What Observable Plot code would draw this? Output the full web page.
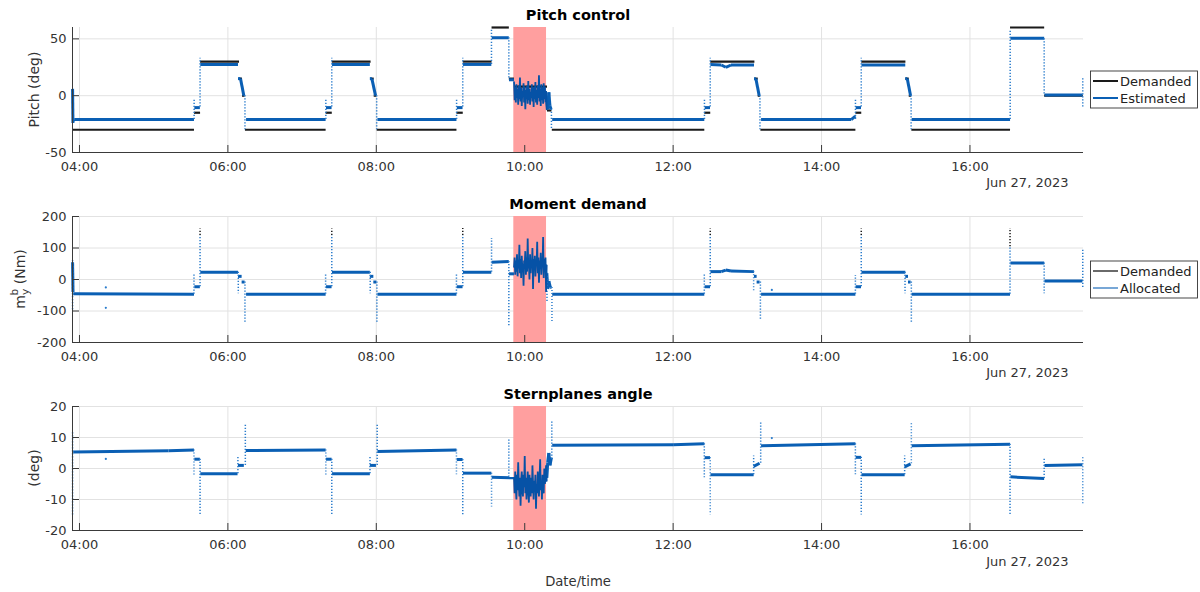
<!DOCTYPE html>
<html><head><meta charset="utf-8">
<script src="https://cdn.jsdelivr.net/npm/d3@7"></script>
<script src="https://cdn.jsdelivr.net/npm/@observablehq/plot@0.6"></script>
<style>
body{margin:0;background:#fff;font-family:"DejaVu Sans",sans-serif;}
#wrap{position:relative;width:1200px;height:592px;overflow:hidden;}
#wrap svg{position:absolute;left:0;overflow:visible;}
</style></head><body><div id="wrap"></div>
<script>
// ---------- data (hours of the day, 27 Jun 2023) ----------
const xTickHours = [4, 6, 8, 10, 12, 14, 16];
const timeDomain = [3.906, 17.53];
const dateLabel = "Jun 27, 2023";
const redSpan = [[9.853, 10.294]];

const titles = ["Pitch control", "Moment demand", "Sternplanes angle"];
const legend1 = ["Demanded", "Estimated"];
const legend2 = ["Demanded", "Allocated"];

const pitchTicks = [-50, 0, 50];
const momentTicks = [-200, -100, 0, 100, 200];
const sternTicks = [-20, -10, 0, 10, 20];

// segments [t0, v0, t1, v1]
const pitchDemanded = [
 [3.907,-30,5.543,-30],[5.543,-15,5.625,-15],[5.625,30,6.15,30],[6.15,15,6.19,15],[6.19,0,6.225,0],
 [6.23,-30,7.317,-30],[7.317,-15,7.40,-15],[7.40,30,7.923,30],[7.923,15,7.965,15],[7.965,0,8.0,0],
 [8.005,-30,9.08,-30],[9.08,-15,9.165,-15],[9.165,30,9.553,30],[9.553,60,9.786,60],[9.786,15,9.855,15],
 [9.855,8,10.30,8],[10.30,-13,10.36,-13],[10.365,-30,12.42,-30],[12.42,-15,12.50,-15],[12.50,30,13.095,30],
 [13.095,15,13.14,15],[13.14,0,13.17,0],[13.176,-30,14.456,-30],[14.456,-15,14.535,-15],[14.535,30,15.13,30],
 [15.13,15,15.175,15],[15.175,0,15.205,0],[15.21,-30,16.54,-30],[16.54,60,17.0,60],[17.0,0,17.52,0]
];
const pitchEstimated = [
 [3.907,6,3.912,-24],[3.912,-22,3.93,-21],[3.93,-21,5.543,-21],[5.548,-10.5,5.622,-10.5],[5.628,27.5,6.136,27.5],
 [6.136,15,6.17,15],[6.17,15,6.215,0],[6.245,-21,7.317,-21],[7.322,-10.5,7.397,-10.5],[7.403,27.5,7.913,27.5],
 [7.913,15,7.94,15],[7.94,15,7.99,0],[8.015,-21,9.08,-21],[9.085,-10.5,9.162,-10.5],[9.168,27.5,9.55,27.5],
 [9.555,51,9.785,51],[9.788,14,9.855,14],[10.298,-6,10.31,-12],[10.31,-12,10.325,3],[10.325,3,10.34,-9],
 [10.34,-9,10.355,-12],[10.37,-21,12.42,-21],[12.425,-10.5,12.497,-10.5],[12.503,27.5,12.65,27],[12.65,27,12.71,25],
 [12.71,25,12.78,27],[12.78,27,13.09,27],[13.09,15,13.115,15],[13.115,15,13.16,0],[13.185,-21,14.40,-21],
 [14.40,-21,14.456,-18],[14.46,-10.5,14.532,-10.5],[14.538,27,15.128,27],[15.128,15,15.155,15],[15.155,15,15.2,0],
 [15.215,-21,16.54,-21],[16.545,50.5,17.0,50.5],[17.005,0.5,17.515,0.5]
];
// spikes [t, v0, v1]
const pitchSpikes = [
 [5.545,-21,-3],[5.625,-10,33],[6.23,0,-30],[7.32,-21,-3],[7.40,-10,33],[8.005,0,-30],[9.082,-21,-3],
 [9.165,-10,33],[9.552,27.5,58],[9.786,51,14],[10.36,-12,-30],[12.422,-21,-3],[12.50,-10,33],[13.17,0,-30],
 [14.457,-21,-3],[14.535,-10,33],[15.207,0,-30],[16.542,-21,58],[17.0,50,0],[17.52,-10,16]
];

const momentAllocated = [
 [3.907,55,3.913,-40],[3.915,-45,5.543,-47],[5.548,-23,5.622,-23],[5.628,23,6.136,23],[6.136,10,6.185,10],
 [6.185,-8,6.225,-8],[6.245,-47,7.317,-47],[7.322,-23,7.397,-23],[7.403,23,7.913,23],[7.913,10,7.96,10],
 [7.96,-8,8.0,-8],[8.015,-47,9.08,-47],[9.085,-23,9.162,-23],[9.168,23,9.55,23],[9.555,55,9.785,57],
 [9.788,18,9.855,18],[10.298,20,10.31,-30],[10.31,-30,10.325,-5],[10.325,-5,10.345,-25],[10.345,-25,10.36,-25],
 [10.37,-47,12.42,-47],[12.425,-23,12.497,-23],[12.503,25,12.65,25],[12.65,25,12.71,30],[12.71,30,12.78,27],
 [12.78,27,13.09,25],[13.09,10,13.125,10],[13.125,-8,13.165,-8],[13.185,-47,14.456,-47],[14.46,-23,14.532,-23],
 [14.538,23,15.128,23],[15.128,10,15.165,10],[15.165,-8,15.2,-8],[15.215,-47,16.54,-47],[16.545,52,17.0,52],
 [17.005,-5,17.515,-5]
];
const momentSpikes = [
 [3.907,60,-100],[5.543,-47,20],[5.625,-23,140],[6.14,23,-45],[6.23,-8,-138],[7.317,-47,20],[7.40,-23,140],
 [7.918,23,-45],[8.008,-8,-138],[9.08,-47,20],[9.165,-23,140],[9.553,23,130],[9.786,57,-152],[10.30,20,-75],
 [10.367,-25,-136],[12.42,-47,20],[12.50,-23,140],[13.085,25,-40],[13.176,-8,-128],[14.456,-47,13],
 [14.535,-23,140],[15.125,23,-45],[15.21,-8,-136],[16.54,-47,104],[17.0,52,-45],[17.52,-25,98]
];
const momentDemandSpikes = [
 [5.625,140,160],[7.40,140,160],[9.165,140,162],[12.50,140,160],[14.535,140,160],[16.54,104,162]
];
const momentDots = [[4.355,-25],[4.355,-90],[13.33,-33]];

const sternAngle = [
 [3.915,5.3,5.20,5.7],[5.20,5.7,5.543,6.0],[5.548,3,5.622,3],[5.628,-1.7,6.13,-1.7],[6.135,1,6.215,1],
 [6.24,5.8,7.317,6.0],[7.322,3,7.397,3],[7.403,-1.7,7.913,-1.7],[7.913,1,7.995,1],[8.015,5.5,9.08,6.0],
 [9.085,2.9,9.162,2.9],[9.168,-1.5,9.55,-1.5],[9.555,-2.8,9.855,-3.0],[10.298,-3,10.31,2],[10.31,2,10.325,5],
 [10.325,5,10.34,1],[10.34,1,10.36,3.5],[10.37,7.5,12.0,7.7],[12.0,7.7,12.42,8.0],[12.425,3.5,12.497,3.5],
 [12.503,-2,13.085,-2],[13.085,0.7,13.165,1.7],[13.185,7.3,14.456,8.0],[14.46,3.6,14.532,3.6],[14.538,-2,15.12,-2],
 [15.12,0.5,15.2,1.5],[15.215,7.3,16.54,7.8],[16.545,-2.7,17.0,-3.2],[17.005,1,17.515,1.2]
];
const sternSpikes = [
 [3.907,11.5,-15],[5.543,6,-2.6],[5.625,3,-15],[6.135,-1.7,3.8],[6.235,1,14.3],[7.32,6,-2.6],[7.40,3,-15],
 [7.915,-1.7,3.8],[8.012,1,14.5],[9.08,6,-2],[9.165,2.9,-15],[9.553,-1.5,-12.4],[9.786,-2.8,9.5],[10.365,3,15.4],
 [12.42,8,-3],[12.50,3.5,-15],[13.085,-2,4],[13.18,1.7,15],[14.456,8,-2],[14.535,3.6,-15],[15.12,-2,4],
 [15.21,1.5,15],[16.54,7.8,-15],[17.0,-3.2,3.2],[17.52,3.5,-12]
];
const sternDots = [[4.355,3.1],[13.33,9.8]];

// noisy stretch inside the red band
const noiseT = [9.856,9.864,9.872,9.880,9.888,9.896,9.904,9.912,9.920,9.928,9.936,9.944,9.952,9.960,9.968,9.976,
 9.984,9.992,10.000,10.008,10.016,10.024,10.032,10.040,10.048,10.056,10.064,10.072,10.080,10.088,10.096,10.104,
 10.112,10.120,10.128,10.136,10.144,10.152,10.160,10.168,10.176,10.184,10.192,10.200,10.208,10.216,10.224,10.232,
 10.240,10.248,10.256,10.264,10.272,10.280,10.288,10.296];
const pitchNoise = [12,-4,8,-6,10,-2,6,-8,9,-3,16,-5,7,-9,4,-1,11,-6,8,-12,5,-3,9,-7,13,-4,6,-8,3,-2,10,-5,7,-10,8,-3,
 12,-6,5,-8,9,-2,18,-5,6,-9,10,-4,7,-7,11,-3,8,-6,4,-12];
const momentNoise = [40,70,15,60,25,80,10,55,35,110,20,65,5,75,30,50,-20,60,45,90,15,70,25,130,35,55,0,80,20,60,40,
 100,-30,65,30,75,10,55,45,120,20,70,-10,60,35,85,15,50,40,135,5,65,25,70,-40,45];
const sternNoise = [-3,-8,-1,-6,-10,-2,-7,2,-5,-9,-3,-12,-4,-1,-7,-9,-2,-6,4,-8,-3,-10,-5,-1,-7,-11,-2,-6,-9,-3,-8,1,
 -5,-10,-4,-7,-2,-13,-5,-8,-1,-6,-9,-3,3,-7,-4,-10,-2,-6,-8,0,-5,-3,1,-4];

// ---------- drawing ----------
const T = h => new Date(Date.UTC(2023, 5, 27) + h * 3600000);
const BLUE = "#0a5fb4", BLUE_DOT = "#2a7ccc", BLACK = "#1a1a1a", AXIS = "#3a3a3a", GRID = "#e2e2e2";
const xTicks = xTickHours.map(T);
const wrap = document.getElementById("wrap");

function panel(o) {
  const segMark = (data, stroke, w) => Plot.link(data, {x1: d => T(d[0]), y1: d => d[1], x2: d => T(d[2]), y2: d => d[3], stroke, strokeWidth: w});
  const spikeMark = (data, stroke) => Plot.ruleX(data, {x: d => T(d[0]), y1: d => d[1], y2: d => d[2], stroke, strokeWidth: 1.5, strokeDasharray: "1.2,1.8"});
  const noiseData = noiseT.map((t, i) => ({t: T(t), v: o.noise[i]}));
  const marks = [
    Plot.gridX(xTicks, {stroke: GRID, strokeOpacity: 1}),
    Plot.gridY(o.yTicks, {stroke: GRID, strokeOpacity: 1}),
    Plot.rect(redSpan, {x1: d => T(d[0]), x2: d => T(d[1]), fill: "#ff9f9f"}),
  ];
  if (o.black) marks.push(segMark(o.black, BLACK, 2.2));
  marks.push(segMark(o.blue, BLUE, 3));
  marks.push(spikeMark(o.spikes, BLUE_DOT));
  if (o.blackSpikes) marks.push(spikeMark(o.blackSpikes, BLACK));
  if (o.dots) marks.push(Plot.dot(o.dots, {x: d => T(d[0]), y: d => d[1], r: 1.1, fill: BLUE_DOT, stroke: "none"}));
  marks.push(Plot.line(noiseData, {x: "t", y: "v", stroke: "#0652a6", strokeWidth: 1.8, strokeLinejoin: "miter"}));
  marks.push(
    Plot.ruleX([T(timeDomain[0])], {stroke: AXIS, strokeWidth: 1}),
    Plot.ruleY([o.yDomain[0]], {stroke: AXIS, strokeWidth: 1}),
    Plot.axisX({ticks: xTicks, tickSize: -7, tickFormat: () => "", stroke: AXIS, label: null}),
    Plot.axisX({ticks: xTicks, tickSize: 0, tickPadding: 9, tickFormat: d3.utcFormat("%H:%M"), fontSize: 13, fill: "#333", label: null}),
    Plot.axisY({ticks: o.yTicks, tickSize: -7, tickFormat: () => "", stroke: AXIS, label: null}),
    Plot.axisY({ticks: o.yTicks, tickSize: 0, tickPadding: 6, tickFormat: d => String(d), fontSize: 13, fill: "#333", label: null}),
    Plot.text([o.title], {frameAnchor: "top", dy: -12, text: d => d, fontWeight: "bold", fontSize: 14.5, fill: "#000", lineAnchor: "middle"}),
    Plot.text([dateLabel], {frameAnchor: "bottom-right", dx: -15, dy: o.dateDy, text: d => d, textAnchor: "end", lineAnchor: "middle", fontSize: 13, fill: "#333"})
  );
  if (o.xlabel) marks.push(Plot.text([o.xlabel], {frameAnchor: "bottom", dy: 51, text: d => d, lineAnchor: "middle", fontSize: 13.2, fill: "#333"}));

  const svg = Plot.plot({
    width: 1200, height: o.height,
    marginLeft: 72, marginRight: 117, marginTop: o.mt, marginBottom: o.mb,
    x: {type: "utc", domain: timeDomain.map(T), label: null},
    y: {domain: o.yDomain, label: null},
    style: {fontFamily: "DejaVu Sans", fontSize: "13px", color: "#333", background: "transparent", overflow: "visible"},
    marks
  });
  svg.style.top = o.top + "px";
  wrap.appendChild(svg);
  const s = d3.select(svg);
  const cy = o.mt + (o.height - o.mt - o.mb) / 2;
  // y label
  const yl = s.append("text").attr("transform", `translate(${o.ylabelX},${cy}) rotate(-90)`)
    .attr("text-anchor", "middle").attr("font-family", "DejaVu Sans").attr("font-size", 14).attr("fill", "#333");
  if (o.ylabelParts) {
    yl.append("tspan").text("m");
    yl.append("tspan").attr("font-size", 10.5).attr("dy", 4).text("y");
    yl.append("tspan").attr("font-size", 10.5).attr("dx", -6.5).attr("dy", -11).text("b");
    yl.append("tspan").attr("dy", 7).text(" (Nm)");
  } else {
    yl.text(o.ylabel);
  }
  // legend
  if (o.legend) {
    const g = s.append("g").attr("font-family", "DejaVu Sans").attr("font-size", 13).attr("fill", "#222")
      .attr("text-anchor", "start");
    g.append("rect").attr("x", 1090.5).attr("y", o.legY).attr("width", 107).attr("height", 37)
      .attr("fill", "#fff").attr("stroke", "#333").attr("stroke-width", 0.9);
    o.legend.forEach((lab, i) => {
      const y = o.legY + 10 + i * 17;
      g.append("line").attr("x1", 1093).attr("x2", 1118).attr("y1", y).attr("y2", y)
        .attr("stroke", i === 0 ? BLACK : BLUE).attr("stroke-width", o.legW[i]);
      g.append("text").attr("x", 1120).attr("y", y).attr("dy", "0.36em").attr("text-anchor", "start").text(lab);
    });
  }
}

panel({top: 0, height: 190, mt: 27, mb: 38, yDomain: [-50, 60], yTicks: pitchTicks, title: titles[0],
  black: pitchDemanded, blue: pitchEstimated, spikes: pitchSpikes, noise: pitchNoise,
  ylabel: "Pitch (deg)", ylabelX: 39, legend: legend1, legY: 71, legW: [2, 2], dateDy: 30.5});
panel({top: 190, height: 190, mt: 26, mb: 38, yDomain: [-200, 200], yTicks: momentTicks, title: titles[1],
  blue: momentAllocated, spikes: momentSpikes, blackSpikes: momentDemandSpikes, dots: momentDots, noise: momentNoise,
  ylabelParts: true, ylabelX: 25, legend: legend2, legY: 71, legW: [1.3, 1.1], dateDy: 30.5});
panel({top: 380, height: 212, mt: 26, mb: 62, yDomain: [-20, 20], yTicks: sternTicks, title: titles[2],
  blue: sternAngle, spikes: sternSpikes, dots: sternDots, noise: sternNoise,
  ylabel: "(deg)", ylabelX: 39, dateDy: 31.5, xlabel: "Date/time"});
</script></body></html>
